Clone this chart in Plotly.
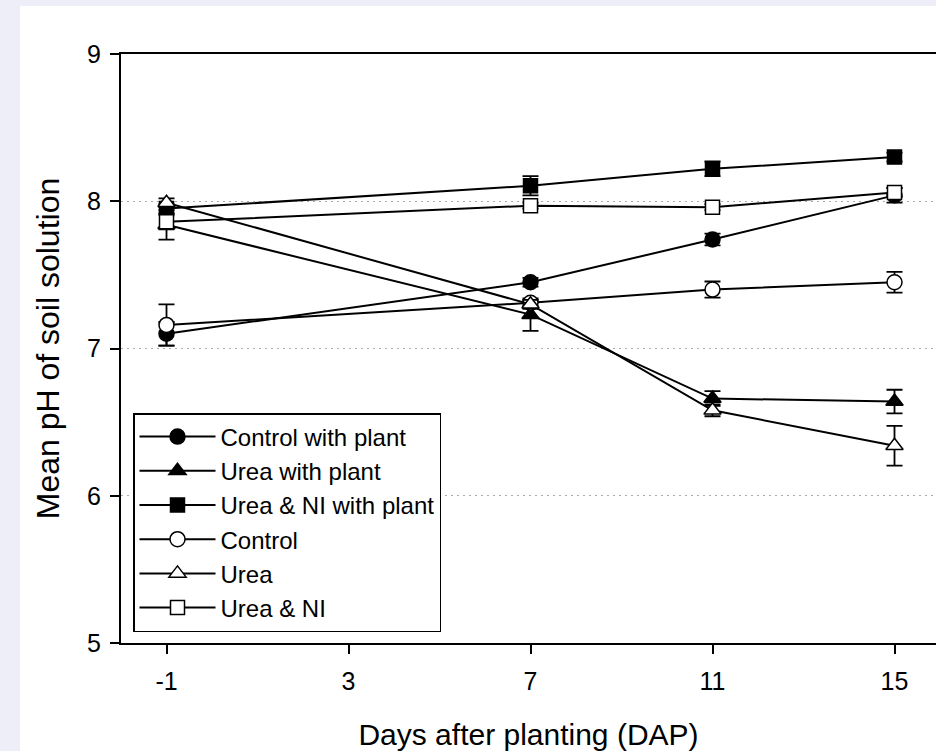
import plotly.graph_objects as go

days = [-1, 7, 11, 15]

series_names = ["Control with plant", "Urea with plant", "Urea & NI with plant",
                "Control", "Urea", "Urea & NI"]

ctrl_plant = [7.10, 7.45, 7.74, 8.04]
ctrl_plant_err = [0.08, 0.03, 0.04, 0.05]
urea_plant = [7.84, 7.23, 6.66, 6.64]
urea_plant_err = [0.10, 0.11, 0.05, 0.08]
ureani_plant = [7.95, 8.105, 8.22, 8.30]
ureani_plant_err = [0.03, 0.065, 0.05, 0.03]
ctrl = [7.16, 7.31, 7.40, 7.45]
ctrl_err = [0.14, 0.02, 0.055, 0.07]
urea = [7.99, 7.30, 6.58, 6.34]
urea_err = [0.03, 0.03, 0.04, 0.135]
ureani = [7.86, 7.97, 7.96, 8.06]
ureani_err = [0.05, 0.02, 0.02, 0.03]

x_ticks = [-1, 3, 7, 11, 15]
y_ticks = [5, 6, 7, 8, 9]

values = [ctrl_plant, urea_plant, ureani_plant, ctrl, urea, ureani]
errors = [ctrl_plant_err, urea_plant_err, ureani_plant_err, ctrl_err, urea_err, ureani_err]
symbols = ["circle", "triangle-up", "square", "circle", "triangle-up", "square"]
fills = ["black", "black", "black", "white", "white", "white"]
sizes = [15, 15, 14, 15, 15, 14]

FONT = "Liberation Sans, Arial, sans-serif"

fig = go.Figure()
for name, y, e, sym, fc, sz in zip(series_names, values, errors, symbols, fills, sizes):
    fig.add_trace(go.Scatter(
        x=days, y=y, name=name, mode="lines+markers",
        line=dict(color="black", width=2),
        marker=dict(symbol=sym, size=sz, color=fc, line=dict(color="black", width=1.5)),
        error_y=dict(type="data", array=e, visible=True, color="black", thickness=1.8, width=8),
    ))

W, H = 936, 751
L, T, B = 121, 54, 108
pw = W - L
ph = H - T - B

fig.update_layout(
    width=W, height=H,
    margin=dict(l=L, r=0, t=T, b=B),
    paper_bgcolor="#eeeef8",
    plot_bgcolor="white",
    font=dict(family=FONT, color="black"),
    showlegend=True,
    legend=dict(
        x=(133 - L) / pw, y=(643 - 632) / ph, xanchor="left", yanchor="bottom",
        bgcolor="white", bordercolor="black", borderwidth=1.5,
        font=dict(size=24, family=FONT, color="black"),
        itemwidth=76,
    ),
    shapes=[dict(type="rect", xref="paper", yref="paper",
                 x0=(20 - L) / pw, x1=1.05, y0=-0.3, y1=(643 - 6) / ph,
                 fillcolor="white", line=dict(width=0), layer="below")],
    xaxis=dict(
        range=[-2, -2 + pw / 45.5], automargin=False,
        tickvals=x_ticks, ticktext=[str(v) for v in x_ticks],
        ticks="outside", ticklen=9, tickwidth=1.5, tickcolor="black",
        showline=True, linecolor="black", linewidth=2, mirror=True,
        showgrid=False, zeroline=False,
        tickfont=dict(size=25, family=FONT, color="black"),
        ticklabelstandoff=6,
        title=dict(text="Days after planting (DAP)", font=dict(size=30, family=FONT, color="black"), standoff=36),
    ),
    yaxis=dict(
        range=[5, 9], automargin=False,
        tickvals=y_ticks, ticktext=[str(v) for v in y_ticks],
        ticks="outside", ticklen=9, tickwidth=1.5, tickcolor="black",
        showline=True, linecolor="black", linewidth=2, mirror=False,
        showgrid=True, gridcolor="#aaaaaa", gridwidth=1.2, griddash="2px,4px",
        zeroline=False,
        tickfont=dict(size=25, family=FONT, color="black"),
        ticklabelstandoff=4,
        title=dict(text="Mean pH of soil solution", font=dict(size=32, family=FONT, color="black"), standoff=18),
    ),
)

fig.write_html("out.html", config={"displayModeBar": False},
               post_script="document.body.style.margin='0';document.body.style.overflow='hidden';")
